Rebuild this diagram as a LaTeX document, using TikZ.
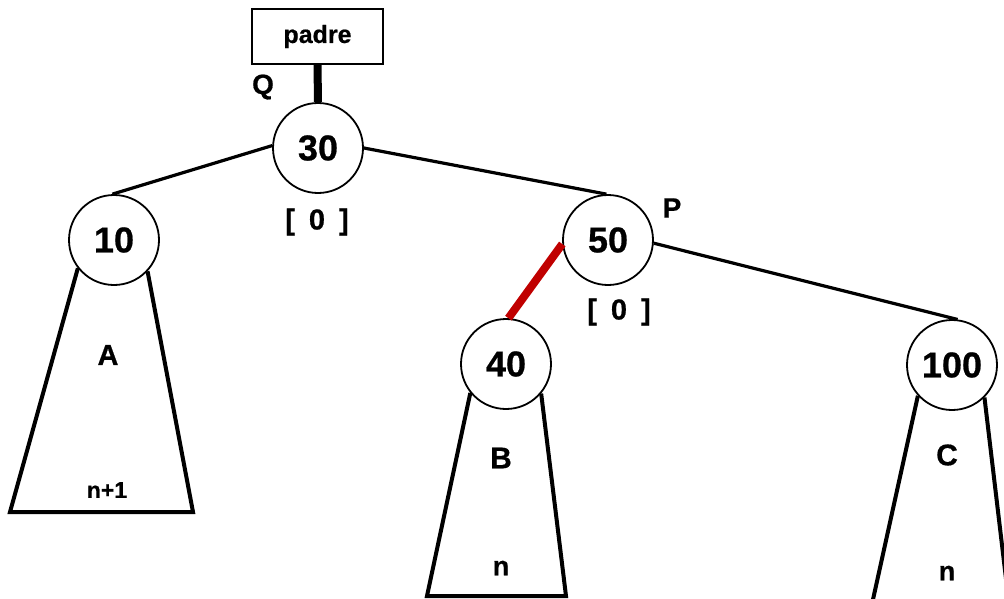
\documentclass[tikz,border=0pt]{standalone}
\usepackage{fontspec}
\setmainfont{Liberation Sans}[BoldFeatures={FakeBold=0.6}]
\definecolor{redline}{RGB}{192,0,0}
\newcommand{\fs}[1]{\fontsize{#1}{#1}\selectfont\bfseries}
\newcommand{\bal}{[\hspace{14pt}0\hspace{14pt}]}
\begin{document}
\begin{tikzpicture}[x=1pt,y=-1pt,
  treenode/.style={circle,draw,line width=1.8pt,minimum size=90pt,inner sep=0pt,font=\fs{36}},
  lbl/.style={inner sep=0pt,font=\fs{28}},
  edge/.style={line width=3.2pt},
  side/.style={line width=4pt},
  line cap=butt]
\useasboundingbox (0,0) rectangle (1004,598);
\clip (0,0) rectangle (1004,598);
\node[draw,line width=1.8pt,minimum width=131pt,minimum height=55pt,inner sep=0pt,font=\fs{25}] (padre) at (317.5,36.5) {padre};
\node[treenode] (n30) at (318,148) {30};
\node[treenode] (n10) at (114,240) {10};
\node[treenode] (n50) at (608,240) {50};
\node[treenode] (n40) at (506,364) {40};
\node[treenode] (n100) at (952,365) {100};
\node[lbl] (q) at (263,87) {Q};
\node[lbl] (p) at (672,208) {P};
\node[lbl,font=\fs{29}] (b30) at (317,222) {\bal};
\node[lbl,font=\fs{29}] (b50) at (619,312) {\bal};
\node[lbl,font=\fs{29}] (la) at (108,355) {A};
\node[lbl,font=\fs{23}] (lna) at (107,490) {n+1};
\node[lbl,font=\fs{30}] (lb) at (501,458) {B};
\node[lbl,font=\fs{27}] (lnb) at (501,568) {n};
\node[lbl,font=\fs{30}] (lc) at (947,455) {C};
\node[lbl,font=\fs{27}] (lnc) at (947,573) {n};
\coordinate (a1) at (10,512);
\coordinate (a2) at (193,512);
\coordinate (bb1) at (427,596);
\coordinate (bb2) at (566,596);
\coordinate (c1) at (872,604);
\coordinate (c2) at (1009,604);
\draw[line width=8pt] (padre.south) -- (n30.north);
\draw[edge] (n30.177) -- (n10.92);
\draw[edge] (n30.east) -- (n50.92);
\draw[edge] (n50.356) -- (n100.83);
\draw[line width=8pt,redline] (n50.185) -- (n40.87);
\draw[side,line join=miter] (n10.218) -- (a1) -- (a2) -- (n10.317);
\draw[side,line join=miter] (n40.219) -- (bb1) -- (bb2) -- (n40.320);
\draw[side] (n100.222) -- (c1);
\draw[side] (n100.315) -- (c2);
\end{tikzpicture}
\end{document}
